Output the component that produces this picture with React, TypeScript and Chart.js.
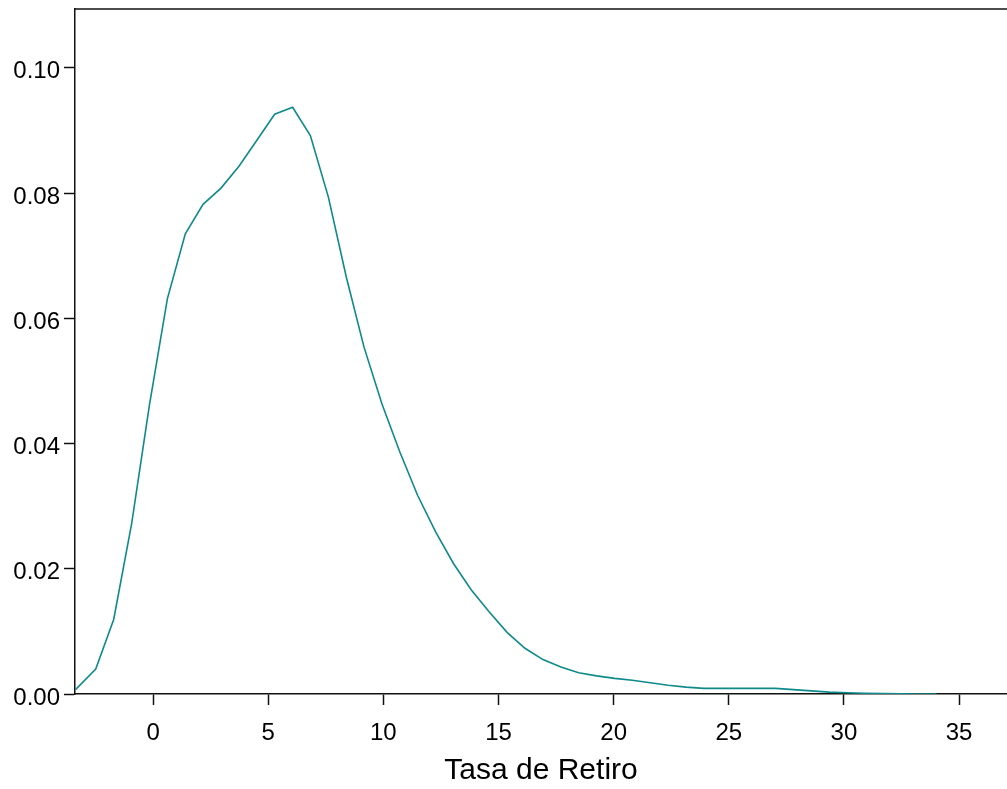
import { useEffect, useRef } from 'react';
import { Chart, registerables } from 'chart.js';

Chart.register(...registerables);

// Kernel density estimate of "Tasa de Retiro"
const XS = [
  -3.37, -2.49, -1.71, -0.93, -0.16, 0.62, 1.4, 2.17, 2.95, 3.73,
  4.5, 5.28, 6.06, 6.83, 7.61, 8.39, 9.16, 9.94, 10.72, 11.49,
  12.27, 13.05, 13.82, 14.6, 15.38, 16.15, 16.93, 17.71, 18.48, 19.26,
  20.04, 20.81, 21.59, 22.37, 23.14, 23.92, 24.7, 25.47, 26.25, 27.03,
  27.8, 28.58, 29.36, 30.13, 30.91, 31.69, 32.46, 33.24, 34.02,
];
const DENSITY = [
  0.0007, 0.004, 0.0119, 0.0272, 0.0461, 0.0631, 0.0735, 0.0782, 0.0808, 0.0843,
  0.0884, 0.0926, 0.0937, 0.0892, 0.0794, 0.0666, 0.0554, 0.0463, 0.0386, 0.0317,
  0.0259, 0.0208, 0.0166, 0.0131, 0.0098, 0.0073, 0.0055, 0.0043, 0.0034, 0.0029,
  0.0025, 0.0022, 0.0018, 0.0014, 0.0011, 0.0009, 0.0009, 0.0009, 0.0009, 0.0009,
  0.0007, 0.0005, 0.0003, 0.0002, 0.00012, 0.00006, 0.00003, 0.00001, 0.0,
];
const X_TICKS = [0, 5, 10, 15, 20, 25, 30, 35];
const Y_TICKS = [0, 0.02, 0.04, 0.06, 0.08, 0.1];
const X_TITLE = 'Tasa de Retiro';

const X_MIN = -3.39;
const X_MAX = 37.08;
const Y_MAX = 0.1094;

const LINE_COLOR = '#0f8a8a';
const AXIS_COLOR = '#111111';
const FONT_FAMILY = "'Liberation Sans', Arial, Helvetica, sans-serif";

const topBorder = {
  id: 'topBorder',
  afterDraw(chart: any) {
    const { ctx, chartArea } = chart;
    ctx.save();
    ctx.strokeStyle = AXIS_COLOR;
    ctx.lineWidth = 1.5;
    ctx.beginPath();
    ctx.moveTo(chartArea.left - 0.75, chartArea.top);
    ctx.lineTo(chartArea.right, chartArea.top);
    ctx.stroke();
    ctx.restore();
  },
};

export default function App() {
  const ref = useRef<HTMLCanvasElement>(null);

  useEffect(() => {
    if (!ref.current) return;
    const chart = new Chart(ref.current, {
      type: 'line',
      data: {
        datasets: [
          {
            data: XS.map((x, i) => ({ x, y: DENSITY[i] })),
            borderColor: LINE_COLOR,
            borderWidth: 1.6,
            pointRadius: 0,
            tension: 0,
            fill: false,
          },
        ],
      },
      options: {
        animation: false,
        responsive: false,
        layout: { padding: { top: 9, left: 0, right: 0, bottom: 0 } },
        plugins: {
          legend: { display: false },
          tooltip: { enabled: false },
        },
        scales: {
          x: {
            type: 'linear',
            min: X_MIN,
            max: X_MAX,
            afterBuildTicks: (s: any) => {
              s.ticks = X_TICKS.map((v) => ({ value: v }));
            },
            afterFit: (s: any) => {
              s.height = 95;
              s.paddingLeft = 0;
              s.paddingRight = 0;
            },
            ticks: {
              autoSkip: false,
              maxRotation: 0,
              padding: 14,
              color: '#000',
              font: { family: FONT_FAMILY, size: 24 },
              callback: (v: any) => String(v),
            },
            grid: {
              drawOnChartArea: false,
              drawTicks: true,
              tickLength: 11,
              tickColor: AXIS_COLOR,
              tickWidth: 1.5,
            },
            border: { display: true, color: AXIS_COLOR, width: 1.5 },
            title: {
              display: true,
              text: X_TITLE,
              color: '#000',
              font: { family: FONT_FAMILY, size: 30 },
              padding: { top: 0, bottom: 0 },
            },
          },
          y: {
            type: 'linear',
            min: 0,
            max: Y_MAX,
            afterBuildTicks: (s: any) => {
              s.ticks = Y_TICKS.map((v) => ({ value: v }));
            },
            afterFit: (s: any) => {
              s.width = 75;
              s.paddingTop = 0;
              s.paddingBottom = 0;
            },
            ticks: {
              autoSkip: false,
              padding: 4,
              labelOffset: 4,
              color: '#000',
              font: { family: FONT_FAMILY, size: 24 },
              callback: (v: any) => Number(v).toFixed(2),
            },
            grid: {
              drawOnChartArea: false,
              drawTicks: true,
              tickLength: 11,
              tickColor: AXIS_COLOR,
              tickWidth: 1.5,
            },
            border: { display: true, color: AXIS_COLOR, width: 1.5 },
          },
        },
      },
      plugins: [topBorder],
    } as any);
    return () => chart.destroy();
  }, []);

  return (
    <div
      style={{
        position: 'fixed',
        left: 0,
        top: 0,
        width: 1007,
        height: 789,
        background: '#fff',
      }}
    >
      <canvas ref={ref} width={1007} height={789} style={{ display: 'block' }} />
    </div>
  );
}
